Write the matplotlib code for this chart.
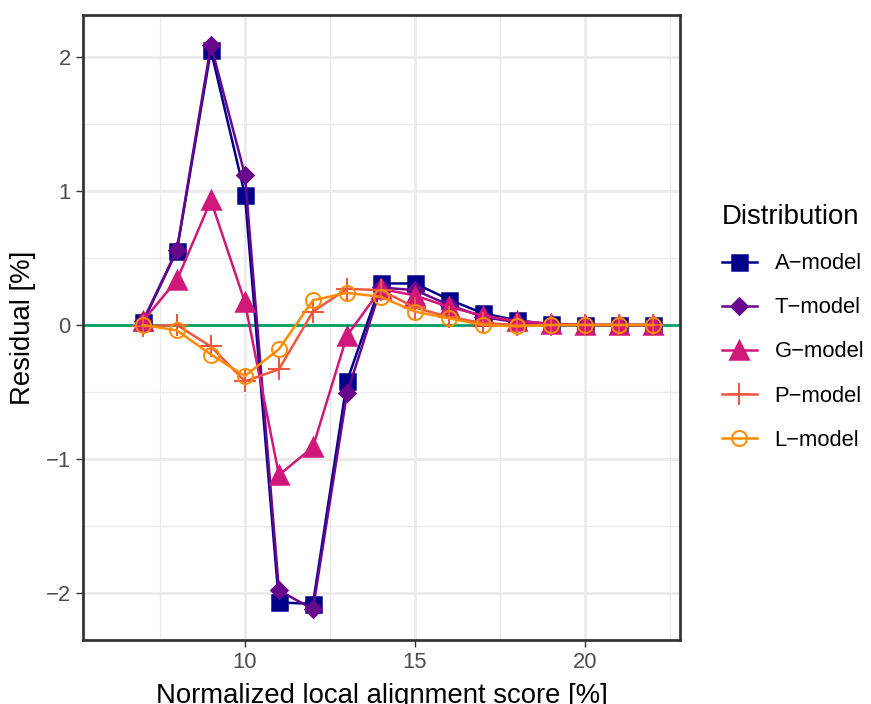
import numpy as np
import matplotlib
matplotlib.use("Agg")
import matplotlib.pyplot as plt
from matplotlib.ticker import MultipleLocator

# residuals per model over the alignment score grid
score = [7, 8, 9, 10, 11, 12, 13, 14, 15, 16, 17, 18, 19, 20, 21, 22]
a_model = [0.02, 0.555, 2.05, 0.97, -2.07, -2.08, -0.42, 0.31, 0.31, 0.19, 0.087, 0.035, 0.005, 0.0, 0.0, 0.0]
t_model = [0.03, 0.56, 2.09, 1.12, -1.98, -2.12, -0.51, 0.28, 0.26, 0.15, 0.06, 0.02, 0.0, 0.0, 0.0, 0.0]
g_model = [0.03, 0.335, 0.93, 0.17, -1.12, -0.91, -0.08, 0.27, 0.22, 0.135, 0.07, 0.03, 0.01, 0.0, 0.0, 0.0]
p_model = [-0.01, 0.0, -0.16, -0.42, -0.33, 0.1, 0.27, 0.26, 0.13, 0.06, 0.015, 0.0, 0.0, 0.0, 0.0, 0.0]
l_model = [0.0, -0.04, -0.22, -0.38, -0.18, 0.185, 0.24, 0.21, 0.1, 0.05, 0.0, -0.01, 0.0, 0.0, 0.0, 0.0]

labels = ["A\u2212model", "T\u2212model", "G\u2212model", "P\u2212model", "L\u2212model"]
colors = ["#00008B", "#68078C", "#D0177A", "#EC5840", "#FF8C00"]

plt.rcParams["font.family"] = ["Liberation Sans", "DejaVu Sans"]

fig = plt.figure(figsize=(871 / 180, 704 / 180), dpi=180)
ax = fig.add_axes([83 / 871, 1 - 640 / 704, (680 - 83) / 871, (640 - 15) / 704])

ax.set_xlim(5.24, 22.79)
ax.set_ylim(-2.35, 2.313)
ax.xaxis.set_major_locator(MultipleLocator(5))
ax.xaxis.set_minor_locator(MultipleLocator(2.5))
ax.yaxis.set_major_locator(MultipleLocator(1))
ax.yaxis.set_minor_locator(MultipleLocator(0.5))
ax.grid(which="major", color="#EBEBEB", lw=1.1)
ax.grid(which="minor", color="#EBEBEB", lw=0.55)
ax.set_axisbelow(True)
ax.tick_params(which="minor", length=0)
ax.tick_params(which="major", length=2.75, width=0.55, color="#333333",
               labelsize=8.8, labelcolor="#4D4D4D", pad=2.2)
for sp in ax.spines.values():
    sp.set_color("#333333")
    sp.set_linewidth(1.1)

ax.axhline(0, color="#009E5F", lw=1.1, zorder=1.5)

series = [a_model, t_model, g_model, p_model, l_model]
styles = [
    dict(marker="s", ms=6.0),
    dict(marker="D", ms=4.4),
    dict(marker="^", ms=7.0),
    dict(marker="+", ms=9.0, mew=0.8),
    dict(marker="o", ms=6.0, mfc="none", mew=0.8),
]
for vals, lab, col, st in zip(series, labels, colors, styles):
    ax.plot(score, vals, color=col, lw=1.0, label=lab, **st)

ax.set_xlabel("Normalized local alignment score [%]", fontsize=11, labelpad=4)
ax.set_ylabel("Residual [%]", fontsize=11, labelpad=4)

leg = fig.legend(loc="center left", bbox_to_anchor=(702 / 871, 0.535),
                 title="Distribution", frameon=False, fontsize=8.8,
                 title_fontsize=11, handlelength=1.6, handletextpad=0.8,
                 labelspacing=1.05)
leg._legend_box.align = "left"

fig.savefig("out.png", dpi=180)
